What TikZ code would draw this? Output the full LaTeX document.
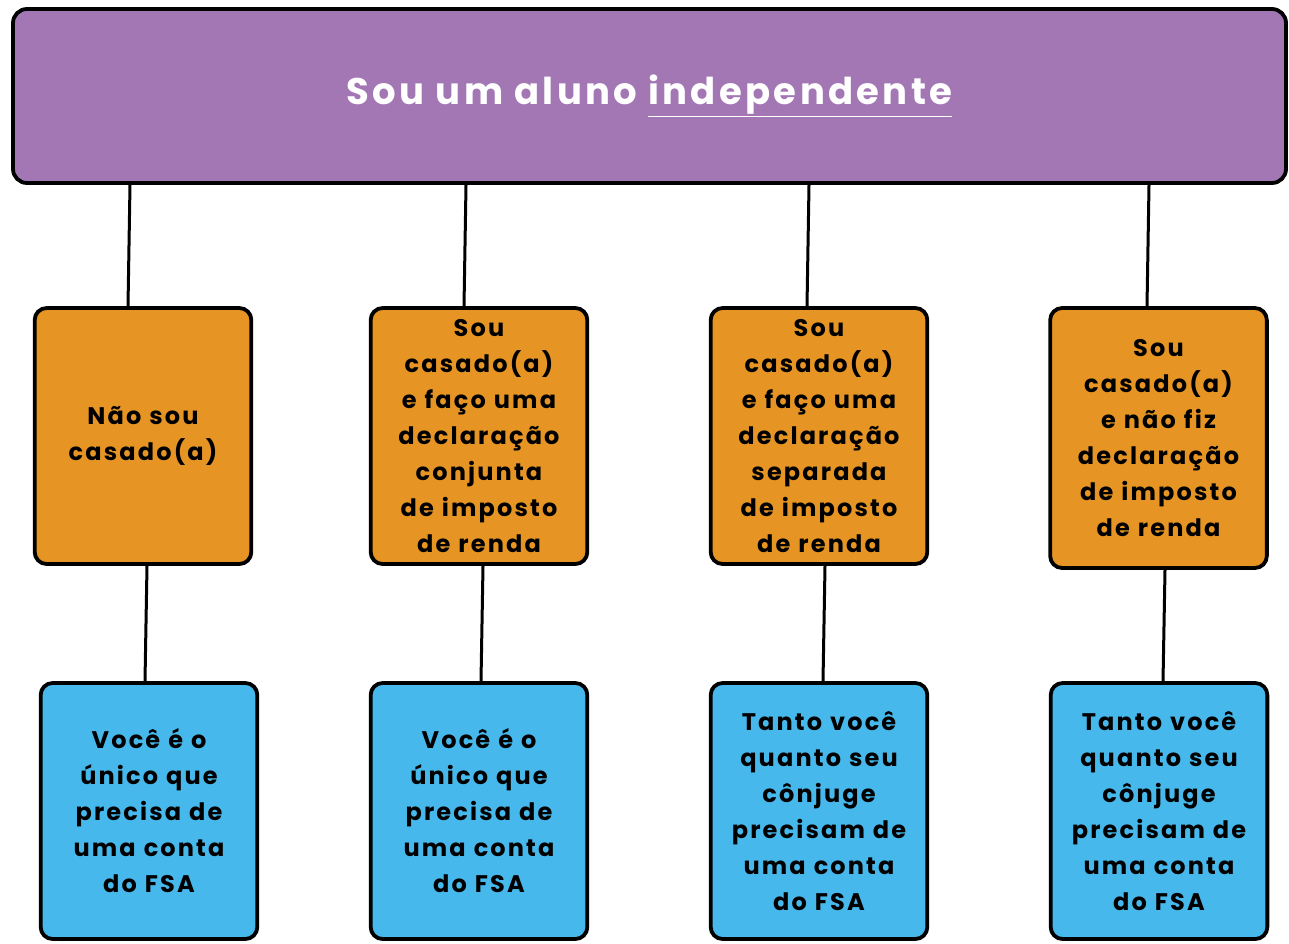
\documentclass[tikz,border=0pt]{standalone}
\usepackage{fontspec}
\setmainfont{Poppins}
\newfontfamily\chartfont{Poppins}[LetterSpace=9]
\definecolor{banner}{RGB}{162,119,180}
\definecolor{married}{RGB}{230,149,36}
\definecolor{account}{RGB}{71,184,236}
\begin{document}
\begin{tikzpicture}[x=1pt,y=-1pt,
        box/.style={draw=black,line width=3.8pt,rounded corners=12pt,minimum width=214pt,minimum height=256pt,text width=210pt,align=center,font=\chartfont\bfseries\fontsize{24}{36}\selectfont},
        status/.style={box,fill=married},
        result/.style={box,fill=account},
        link/.style={line width=3pt}]
        \useasboundingbox(0,0)rectangle(1289,943);
        \node[draw=black,line width=3.8pt,rounded corners=14pt,fill=banner,minimum width=1273pt,minimum height=174pt,text=white,font=\chartfont\bfseries\fontsize{37}{44}\selectfont](top)at(649.5,96){Sou um aluno \underline{independente}};
        \node[status](s1)at(143,436){Não sou\\casado(a)};
        \node[status](s2)at(479,436){Sou\\casado(a)\\e faço uma\\declaração\\conjunta\\de imposto\\de renda};
        \node[status](s3)at(819,436){Sou\\casado(a)\\e faço uma\\declaração\\separada\\de imposto\\de renda};
        \node[status,minimum height=260pt](s4)at(1158.5,438){Sou\\casado(a)\\e não fiz\\declaração\\de imposto\\de renda};
        \node[result](r1)at(149,811){Você é o\\único que\\precisa de\\uma conta\\do FSA};
        \node[result](r2)at(479,811){Você é o\\único que\\precisa de\\uma conta\\do FSA};
        \node[result](r3)at(819,811){Tanto você\\quanto seu\\cônjuge\\precisam de\\uma conta\\do FSA};
        \node[result](r4)at(1159,811){Tanto você\\quanto seu\\cônjuge\\precisam de\\uma conta\\do FSA};
        \draw[link](top.south-|130,0)--(s1.north-|128,0);
        \draw[link](top.south-|466,0)--(s2.north-|464,0);
        \draw[link](top.south-|809,0)--(s3.north-|807,0);
        \draw[link](top.south-|1149,0)--(s4.north-|1147,0);
        \draw[link](s1.south-|147,0)--(r1.north-|145,0);
        \draw[link](s2.south-|483,0)--(r2.north-|481,0);
        \draw[link](s3.south-|825,0)--(r3.north-|823,0);
        \draw[link](s4.south-|1165,0)--(r4.north-|1163,0);
    \end{tikzpicture}
\end{document}
